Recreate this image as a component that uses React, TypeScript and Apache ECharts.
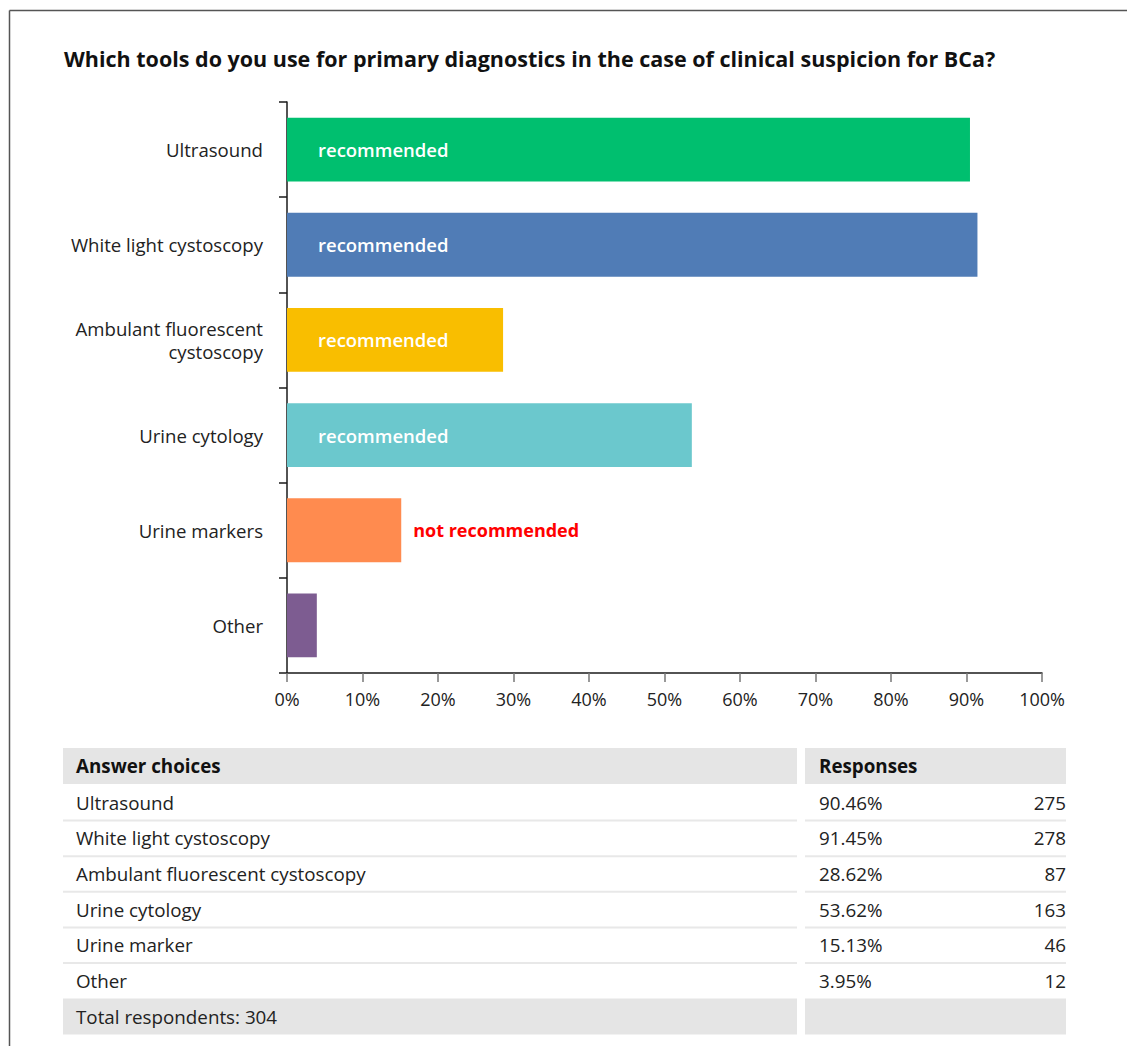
import React, { useEffect, useRef } from "react";
import * as echarts from "echarts";

const FONT = "'Open Sans', 'Noto Sans', sans-serif";
const TITLE = "Which tools do you use for primary diagnostics in the case of clinical suspicion for BCa?";
const categories = ["Ultrasound", "White light cystoscopy", "Ambulant fluorescent\ncystoscopy", "Urine cytology", "Urine markers", "Other"];
const percents = [90.46, 91.45, 28.62, 53.62, 15.13, 3.95];
const counts = [275, 278, 87, 163, 46, 12];
const barColors = ["#00BF6F", "#507CB6", "#F9BE00", "#6BC8CD", "#FF8B4F", "#7D5C91"];
const barNotes = ["recommended", "recommended", "recommended", "recommended", "not recommended", ""];
const tableLabels = ["Ultrasound", "White light cystoscopy", "Ambulant fluorescent cystoscopy", "Urine cytology", "Urine marker", "Other"];
const totalRespondents = 304;

export default function App() {
  const ref = useRef<HTMLDivElement>(null);
  useEffect(() => {
    document.body.style.margin = "0";
    const chart = echarts.init(ref.current!, null, { renderer: "svg" });

    const graphics: any[] = [];
    // outer frame
    graphics.push({ type: "line", shape: { x1: 9.5, y1: 10.5, x2: 1127, y2: 10.5 }, style: { stroke: "#555", lineWidth: 1.5 } });
    graphics.push({ type: "line", shape: { x1: 9.5, y1: 10.5, x2: 9.5, y2: 1046 }, style: { stroke: "#555", lineWidth: 1.5 } });

    // table
    const TF = 18.8;
    const c1x = 63, c1w = 734, c2x = 805, c2w = 261;
    const headTop = 748, headH = 36, pitch = 35.6;
    const rowsTop = headTop + headH + 1;
    graphics.push({ type: "rect", shape: { x: c1x, y: headTop, width: c1w, height: headH }, style: { fill: "#e5e5e5" } });
    graphics.push({ type: "rect", shape: { x: c2x, y: headTop, width: c2w, height: headH }, style: { fill: "#e5e5e5" } });
    graphics.push({ type: "text", x: 76, y: headTop + headH / 2, style: { text: "Answer choices", font: `bold ${TF}px ${FONT}`, fill: "#111", verticalAlign: "middle" } });
    graphics.push({ type: "text", x: 819, y: headTop + headH / 2, style: { text: "Responses", font: `bold ${TF}px ${FONT}`, fill: "#111", verticalAlign: "middle" } });
    tableLabels.forEach((lab, i) => {
      const cy = rowsTop + pitch * (i + 0.5);
      graphics.push({ type: "text", x: 76, y: cy, style: { text: lab, font: `${TF}px ${FONT}`, fill: "#222", verticalAlign: "middle" } });
      graphics.push({ type: "text", x: 819, y: cy, style: { text: percents[i].toFixed(2) + "%", font: `${TF}px ${FONT}`, fill: "#222", verticalAlign: "middle" } });
      graphics.push({ type: "text", x: 1066, y: cy, style: { text: String(counts[i]), font: `${TF}px ${FONT}`, fill: "#222", verticalAlign: "middle", align: "right" } });
      if (i < tableLabels.length - 1) {
        const ly = rowsTop + pitch * (i + 1);
        graphics.push({ type: "line", shape: { x1: c1x, y1: ly, x2: c1x + c1w, y2: ly }, style: { stroke: "#e8e8e8", lineWidth: 2 } });
        graphics.push({ type: "line", shape: { x1: c2x, y1: ly, x2: c2x + c2w, y2: ly }, style: { stroke: "#e8e8e8", lineWidth: 2 } });
      }
    });
    const totTop = rowsTop + pitch * tableLabels.length;
    graphics.push({ type: "rect", shape: { x: c1x, y: totTop, width: c1w, height: 36 }, style: { fill: "#e5e5e5" } });
    graphics.push({ type: "rect", shape: { x: c2x, y: totTop, width: c2w, height: 36 }, style: { fill: "#e5e5e5" } });
    graphics.push({ type: "text", x: 76, y: totTop + 18, style: { text: "Total respondents: " + totalRespondents, font: `${TF}px ${FONT}`, fill: "#222", verticalAlign: "middle" } });

    chart.setOption({
      animation: false,
      backgroundColor: "#fff",
      title: {
        text: TITLE,
        left: 59,
        top: 42,
        textStyle: { fontFamily: FONT, fontSize: 21.5, fontWeight: "bold", color: "#111" },
      },
      grid: { left: 287, top: 102, width: 755, height: 571, containLabel: false },
      xAxis: {
        type: "value",
        min: 0,
        max: 100,
        interval: 10,
        axisLine: { show: true, lineStyle: { color: "#1a1a1a", width: 1.5 } },
        axisTick: { show: true, length: 9, lineStyle: { color: "#777", width: 1.5 } },
        splitLine: { show: false },
        axisLabel: { formatter: (v: number) => v + "%", fontFamily: FONT, fontSize: 18, color: "#222", margin: 17 },
      },
      yAxis: {
        type: "category",
        data: categories,
        inverse: true,
        axisLine: { show: true, lineStyle: { color: "#1a1a1a", width: 1.5 } },
        axisTick: { show: true, length: 8, lineStyle: { color: "#1a1a1a", width: 1.5 } },
        axisLabel: { fontFamily: FONT, fontSize: 18.6, color: "#222", margin: 24, lineHeight: 23, align: "right" },
      },
      series: [
        {
          type: "bar",
          barWidth: "67%",
          data: percents.map((v, i) => ({
            value: v,
            itemStyle: { color: barColors[i] },
            label: barNotes[i] === "not recommended"
              ? { show: true, position: "right", distance: 12, formatter: barNotes[i], color: "#f00", fontWeight: "bold", fontSize: 18, fontFamily: FONT }
              : { show: barNotes[i] !== "", position: "insideLeft", distance: 31, formatter: barNotes[i], color: "#fff", fontWeight: 600, fontSize: 18.5, fontFamily: FONT },
          })),
        },
      ],
      graphic: graphics,
    });
    return () => chart.dispose();
  }, []);
  return <div ref={ref} style={{ width: 1127, height: 1046 }} />;
}
